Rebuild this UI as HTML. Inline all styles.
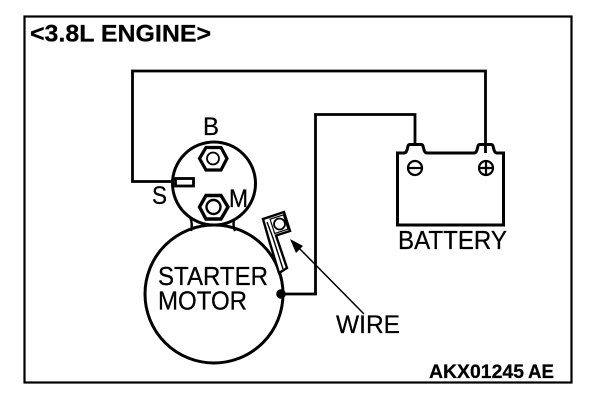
<!DOCTYPE html>
<html><head><meta charset="utf-8"><style>
html,body{margin:0;padding:0;background:#fff;width:608px;height:404px;overflow:hidden}
svg{display:block}
text{font-family:"Liberation Sans",sans-serif;fill:#000;stroke:#000;stroke-width:.25px}
</style></head><body>
<svg width="608" height="404" viewBox="0 0 608 404" xmlns="http://www.w3.org/2000/svg">
<rect x="24.500" y="16.500" width="547" height="366" fill="none" stroke="#000" stroke-width="2.200"/>
<g fill="none" stroke="#000">
<path d="M173 181.500H132.500V71H485.500V153" stroke-width="2.800"/>
<path d="M282 294H315.500V114.500H415V144" stroke-width="2.800"/>
<path d="M190 217Q193 224 191 231M235 217Q232 224 235 231" stroke-width="2.400"/>
<circle cx="214" cy="294" r="69" stroke-width="3"/>
<circle cx="214" cy="183.500" r="41.500" fill="#fff" stroke-width="3"/>
<rect x="175.500" y="178.500" width="18" height="7.500" fill="#fff" stroke-width="2.800"/>
<polygon points="199.500,158.500 206,147.500 221,147.500 227,158.500 221,170 206,170" stroke-width="3.200"/>
<circle cx="213" cy="158.500" r="6" stroke-width="1.800"/>
<polygon points="199.500,207 206,195.500 221,195.500 228,207 221,219 206,219" stroke-width="3.400"/>
<circle cx="213.500" cy="207" r="7" stroke-width="2.400"/>
<polygon points="263,219 284,212 290,231 276,235.500 287,268 279,273 269,240" fill="#fff" stroke-width="2.400"/>
<path d="M267 222L273 238L283 269" stroke-width="1.400"/>
<circle cx="279.500" cy="224" r="5.500" stroke-width="1.800"/>
<rect x="272" y="216.500" width="14" height="15" transform="rotate(-18 279.500 224)" stroke-width="1.200"/>
<path d="M397.500 225V153H404Q406 153 407 150L408 146Q408.500 144.500 410 144.500H421Q422.500 144.500 423 146L424 150Q425 153 427 153H474Q476 153 477 150L478 146Q478.500 144.500 480 144.500H491Q492.500 144.500 493 146L494 150Q495 153 497 153H503.500V225Z" stroke-width="3"/>
<circle cx="415" cy="168" r="7" stroke-width="2.200"/>
<path d="M408 168H422" stroke-width="2.200"/>
<circle cx="486" cy="168" r="7" stroke-width="2.200"/>
<path d="M479 168H493M486 161V175" stroke-width="2.200"/>
<path d="M296 245L364 314" stroke-width="1.500"/>
</g>
<circle cx="281" cy="294" r="4.800" fill="#000"/>
<polygon points="290,239 303,246 296,253" fill="#000"/>
<text x="30" y="41.500" font-size="24" font-weight="bold" textLength="181" lengthAdjust="spacingAndGlyphs">&lt;3.8L ENGINE&gt;</text>
<text x="203" y="135" font-size="25" textLength="16" lengthAdjust="spacingAndGlyphs">B</text>
<text x="152" y="204" font-size="25" textLength="15" lengthAdjust="spacingAndGlyphs">S</text>
<text x="229" y="207" font-size="25" textLength="19" lengthAdjust="spacingAndGlyphs">M</text>
<text x="158" y="285" font-size="25.500" textLength="110" lengthAdjust="spacingAndGlyphs">STARTER</text>
<text x="158" y="309.500" font-size="25.500" textLength="89" lengthAdjust="spacingAndGlyphs">MOTOR</text>
<text x="398" y="249" font-size="26" textLength="109" lengthAdjust="spacingAndGlyphs">BATTERY</text>
<text x="336" y="333" font-size="25" textLength="64" lengthAdjust="spacingAndGlyphs">WIRE</text>
<text x="429" y="378" font-size="19" font-weight="bold" textLength="95" lengthAdjust="spacingAndGlyphs">AKX01245</text>
<text x="528" y="378" font-size="19" font-weight="bold" textLength="26" lengthAdjust="spacingAndGlyphs">AE</text>
</svg>
</body></html>
